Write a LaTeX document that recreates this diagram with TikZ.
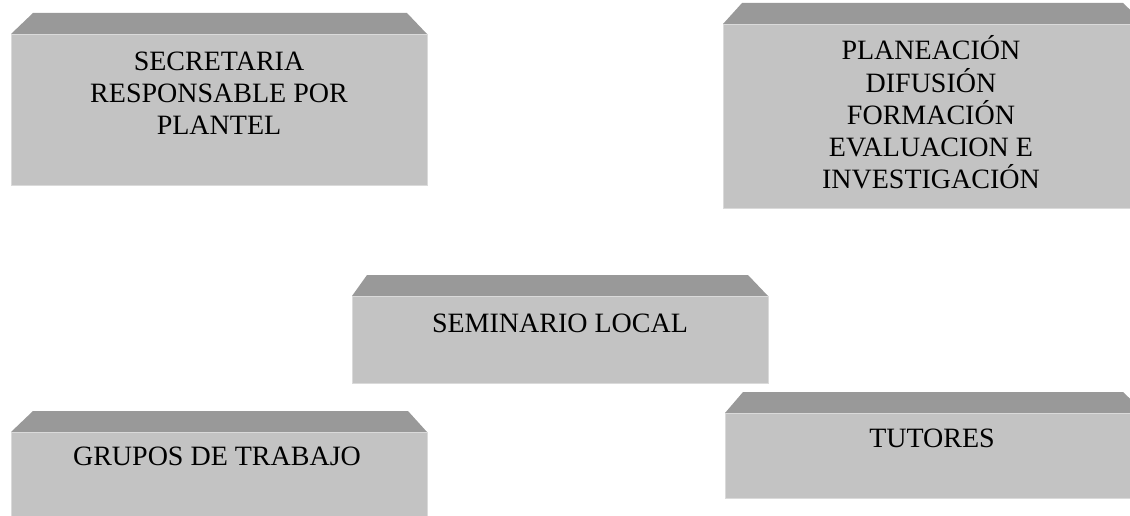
\documentclass[tikz,border=0pt]{standalone}
\usepackage{fontspec}
\setmainfont{Liberation Serif}
\definecolor{bevelc}{RGB}{153,153,153}
\definecolor{facec}{RGB}{195,195,195}
\definecolor{edgec}{RGB}{218,218,218}
\begin{document}
\begin{tikzpicture}[x=1pt,y=-1pt,
  face/.style={fill=facec, draw=edgec, line width=0.8pt, inner sep=0pt, anchor=north west},
  bev/.style={fill=bevelc},
  lbl/.style={font=\fontsize{28}{32.3}\selectfont, align=center, inner sep=0pt, anchor=base}]
\useasboundingbox (0,0) rectangle (1130,516);
\clip (0,0) rectangle (1130,516);
% SECRETARIA
\fill[bev] (11,34) -- (33,13) -- (407,13) -- (427,34) -- cycle;
\node[face, minimum width=416pt, minimum height=151pt] (secbox) at (11,34) {};
\node[lbl] (sectxt) at (219,135) {SECRETARIA\\RESPONSABLE POR\\PLANTEL};
% PLANEACION
\fill[bev] (723,24) -- (742,3) -- (1123,3) -- (1145,24) -- cycle;
\node[face, minimum width=422pt, minimum height=184pt] (planbox) at (723,24) {};
\node[lbl] (plantxt) at (931,189) {PLANEACIÓN\\DIFUSIÓN\\FORMACIÓN\\EVALUACION E\\INVESTIGACIÓN};
% SEMINARIO
\fill[bev] (352,296) -- (367,275) -- (748,275) -- (768,296) -- cycle;
\node[face, minimum width=416pt, minimum height=87pt] (sembox) at (352,296) {};
\node[lbl] (semtxt) at (560,332) {SEMINARIO LOCAL};
% GRUPOS
\fill[bev] (11,432) -- (33,411) -- (408,411) -- (427,432) -- cycle;
\node[face, minimum width=416pt, minimum height=100pt] (grubox) at (11,432) {};
\node[lbl] (grutxt) at (217,465) {GRUPOS DE TRABAJO};
% TUTORES
\fill[bev] (725,413) -- (743,392) -- (1123,392) -- (1145,413) -- cycle;
\node[face, minimum width=420pt, minimum height=85pt] (tutbox) at (725,413) {};
\node[lbl] (tuttxt) at (932,447) {TUTORES};
\end{tikzpicture}
\end{document}
